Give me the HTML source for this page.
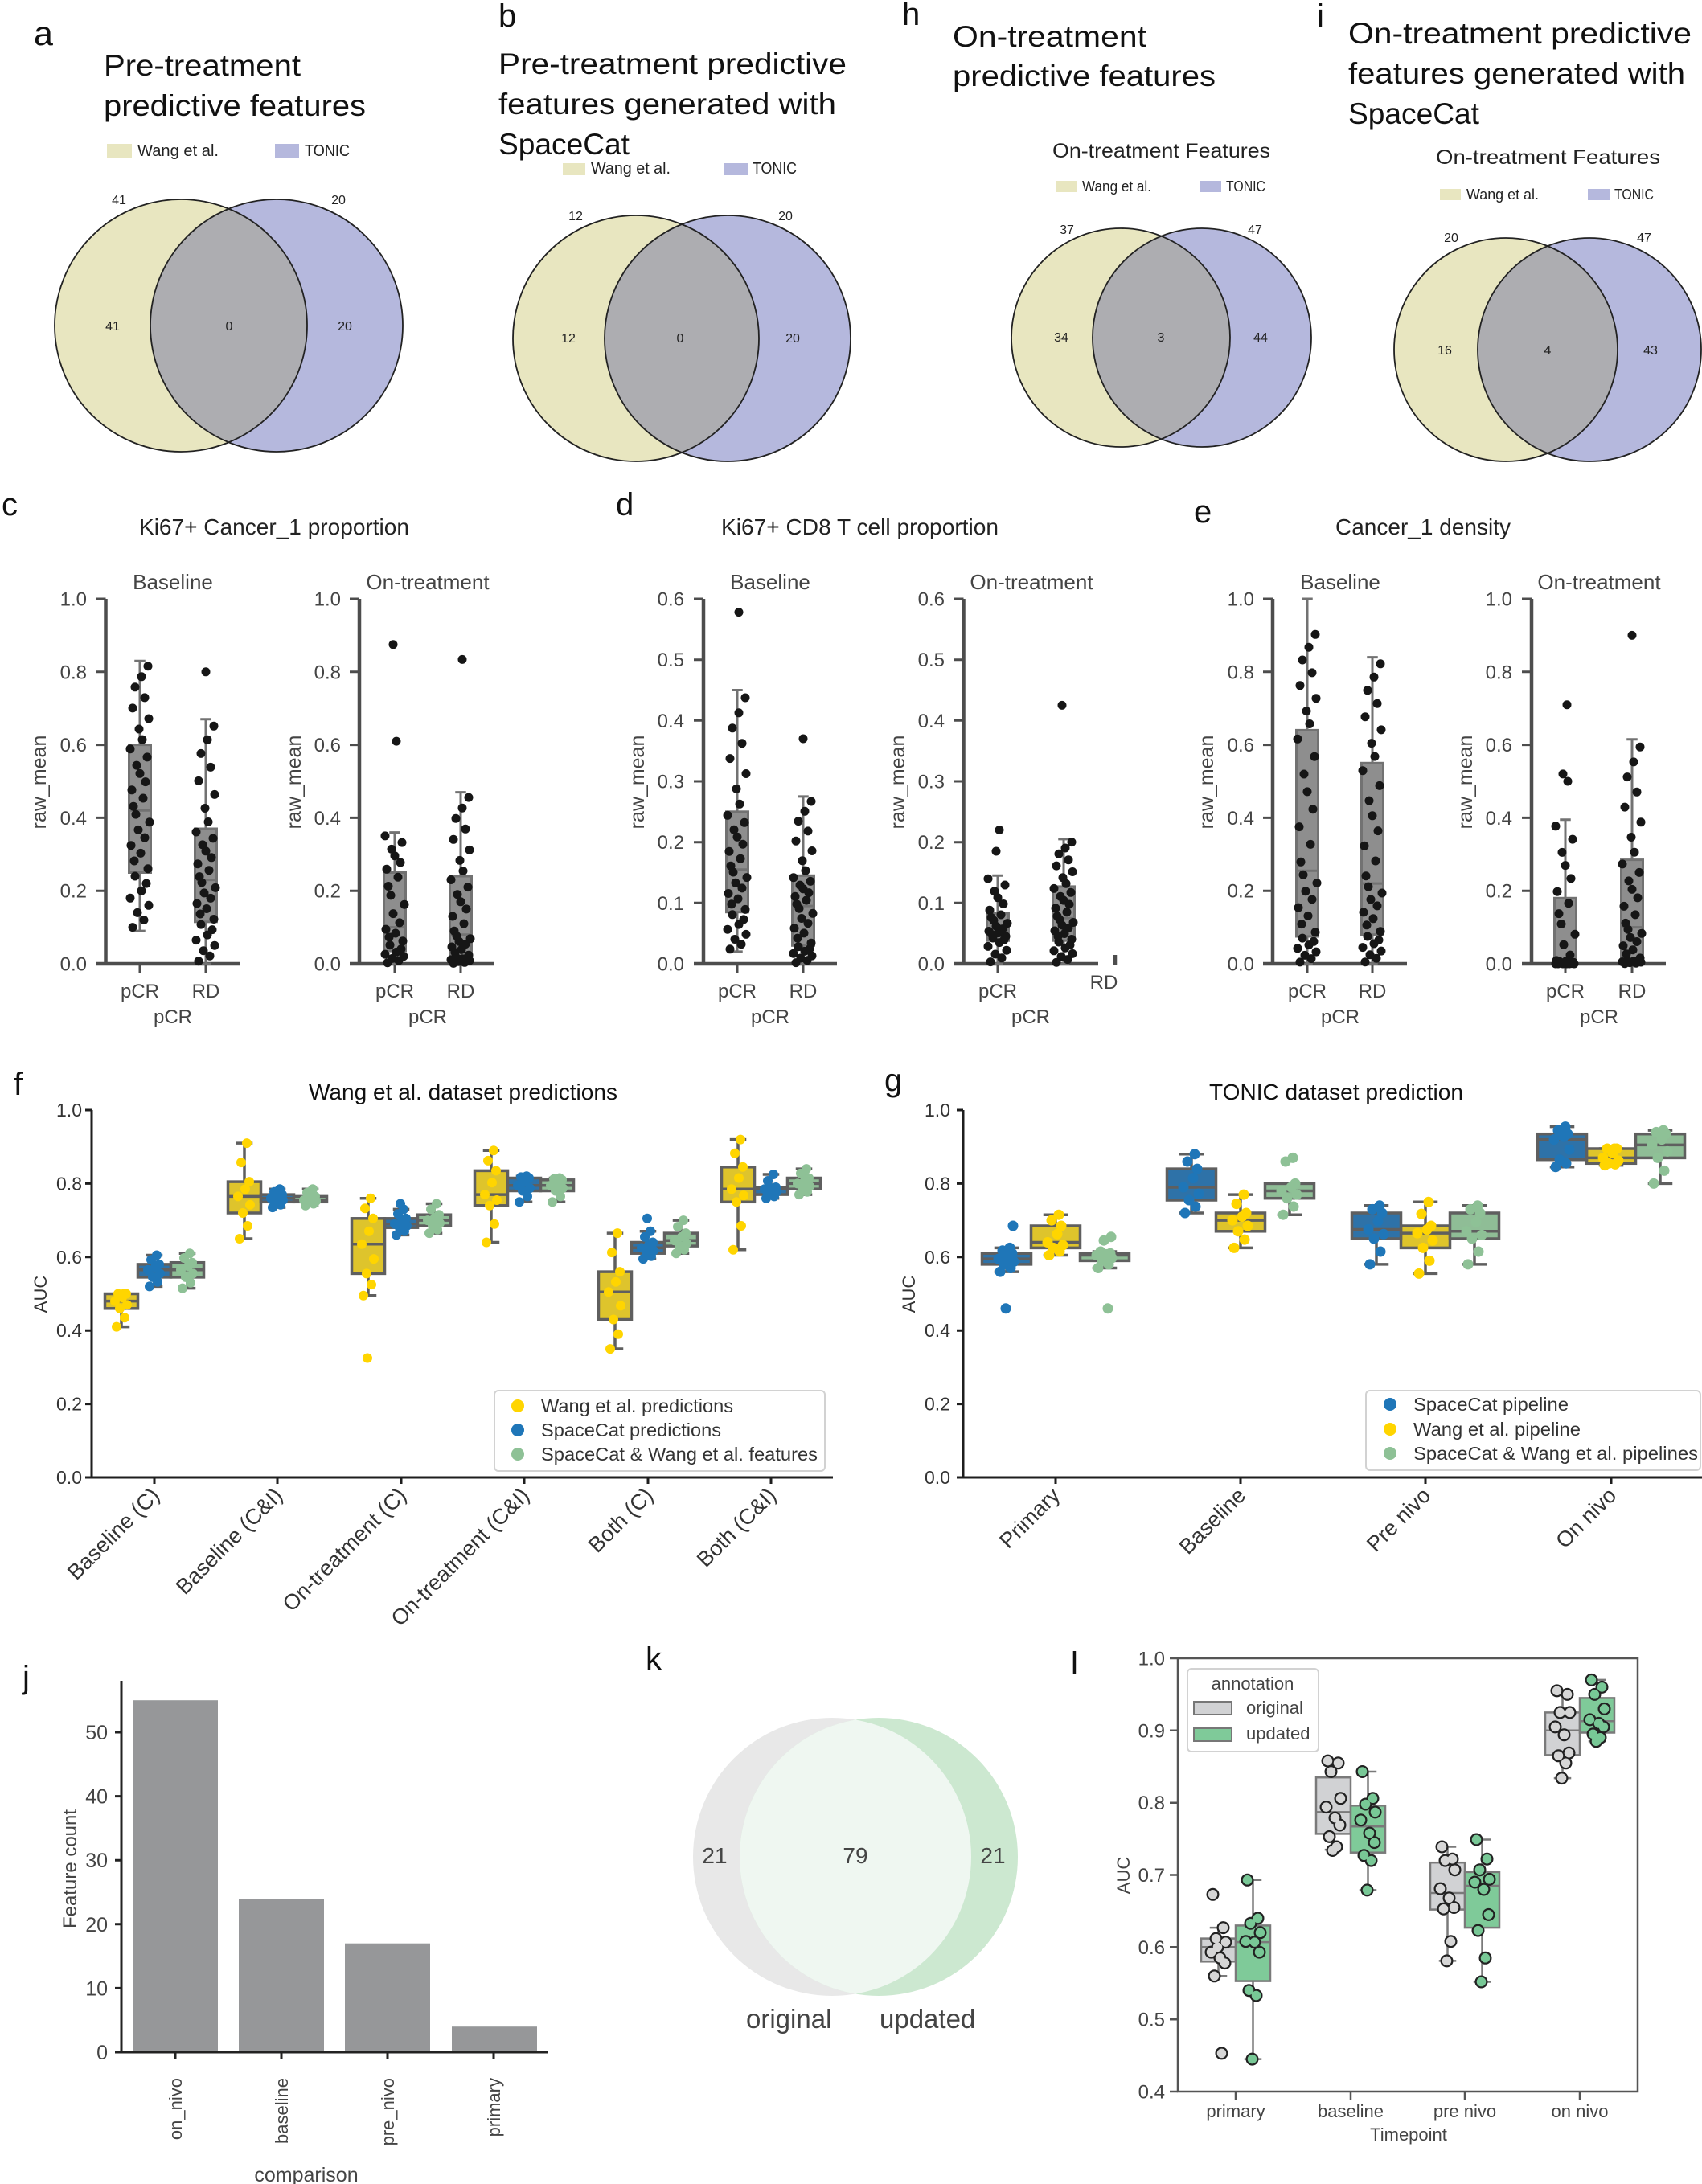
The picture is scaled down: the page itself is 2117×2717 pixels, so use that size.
<!DOCTYPE html>
<html><head><meta charset="utf-8">
<style>
html,body{margin:0;padding:0;background:#fff;}
svg{display:block;}
text{font-family:"Liberation Sans",Arial,sans-serif;}
.dv{font-family:"DejaVu Sans","Liberation Sans",sans-serif;}
</style></head>
<body>
<svg xmlns="http://www.w3.org/2000/svg" width="2117" height="2717" viewBox="0 0 2117 2717">
<rect width="2117" height="2717" fill="#fff"/>
<defs>
<clipPath id="ca"><circle cx="225" cy="405" r="157"/></clipPath>
<clipPath id="cb"><circle cx="791" cy="421" r="153"/></clipPath>
<clipPath id="ch"><circle cx="1394" cy="420" r="136"/></clipPath>
<clipPath id="ci"><circle cx="1873" cy="435" r="139"/></clipPath>
<clipPath id="ck"><circle cx="1035" cy="2310" r="173"/></clipPath>
</defs>

<!-- Venn a -->
<circle cx="225" cy="405" r="157" fill="#e8e6c0"/>
<circle cx="344" cy="405" r="157" fill="#b5b8dd"/>
<circle cx="344" cy="405" r="157" fill="#adadb1" clip-path="url(#ca)"/>
<circle cx="225" cy="405" r="157" fill="none" stroke="#222" stroke-width="1.8"/>
<circle cx="344" cy="405" r="157" fill="none" stroke="#222" stroke-width="1.8"/>
<!-- Venn b -->
<circle cx="791" cy="421" r="153" fill="#e8e6c0"/>
<circle cx="905" cy="421" r="153" fill="#b5b8dd"/>
<circle cx="905" cy="421" r="153" fill="#adadb1" clip-path="url(#cb)"/>
<circle cx="791" cy="421" r="153" fill="none" stroke="#222" stroke-width="1.8"/>
<circle cx="905" cy="421" r="153" fill="none" stroke="#222" stroke-width="1.8"/>
<!-- Venn h -->
<circle cx="1394" cy="420" r="136" fill="#e8e6c0"/>
<circle cx="1495" cy="420" r="136" fill="#b5b8dd"/>
<circle cx="1495" cy="420" r="136" fill="#adadb1" clip-path="url(#ch)"/>
<circle cx="1394" cy="420" r="136" fill="none" stroke="#222" stroke-width="1.8"/>
<circle cx="1495" cy="420" r="136" fill="none" stroke="#222" stroke-width="1.8"/>
<!-- Venn i -->
<circle cx="1873" cy="435" r="139" fill="#e8e6c0"/>
<circle cx="1977" cy="435" r="139" fill="#b5b8dd"/>
<circle cx="1977" cy="435" r="139" fill="#adadb1" clip-path="url(#ci)"/>
<circle cx="1873" cy="435" r="139" fill="none" stroke="#222" stroke-width="1.8"/>
<circle cx="1977" cy="435" r="139" fill="none" stroke="#222" stroke-width="1.8"/>
<!-- Venn k -->
<circle cx="1035" cy="2310" r="173" fill="#e8e8e8"/>
<circle cx="1093" cy="2310" r="173" fill="#cce8d0"/>
<circle cx="1093" cy="2310" r="173" fill="#eff7f1" clip-path="url(#ck)"/>

<!-- venn legends -->
<rect x="133" y="179" width="31" height="17" fill="#e8e6c0"/>
<rect x="342" y="179" width="30" height="17" fill="#b5b8dd"/>
<rect x="700" y="203" width="28" height="15" fill="#e8e6c0"/>
<rect x="901" y="203" width="30" height="15" fill="#b5b8dd"/>
<rect x="1314" y="225" width="26" height="14" fill="#e8e6c0"/>
<rect x="1493" y="225" width="26" height="14" fill="#b5b8dd"/>
<rect x="1791" y="235" width="26" height="14" fill="#e8e6c0"/>
<rect x="1975" y="235" width="27" height="14" fill="#b5b8dd"/>

<!-- ===== c d e axes ===== -->
<g fill="none" stroke="#4d4d4d">
<path stroke-width="4.5" d="M131.5 745V1201M119.5 1199H298M447 745V1201M435 1199H615M875 745V1201M863 1199H1041M1198.5 745V1201M1186.5 1199H1366M1583 745V1201M1571 1199H1750M1905 745V1201M1893 1199H2072M1387 1188v12"/>
<path stroke-width="3" d="M119.5 745h12M119.5 835.8h12M119.5 926.6h12M119.5 1017.4h12M119.5 1108.2h12M174 1199v12M256 1199v12
M435 745h12M435 835.8h12M435 926.6h12M435 1017.4h12M435 1108.2h12M491 1199v12M573 1199v12
M863 745h12M863 820.7h12M863 896.3h12M863 972h12M863 1047.7h12M863 1123.3h12M917 1199v12M999 1199v12
M1186.5 745h12M1186.5 820.7h12M1186.5 896.3h12M1186.5 972h12M1186.5 1047.7h12M1186.5 1123.3h12M1241 1199v12
M1571 745h12M1571 835.8h12M1571 926.6h12M1571 1017.4h12M1571 1108.2h12M1626 1199v12M1707 1199v12
M1893 745h12M1893 835.8h12M1893 926.6h12M1893 1017.4h12M1893 1108.2h12M1947 1199v12M2030 1199v12"/>
</g>
<!-- c d e boxes -->
<path fill="none" stroke="#727272" stroke-width="3" d="M174 1158.1V822.2M167.25 1158.1h13.5M167.25 822.2h13.5
M256 1199V894.8M249.25 1199h13.5M249.25 894.8h13.5
M491 1199V1035.6M484.25 1199h13.5M484.25 1035.6h13.5
M573 1199V985.6M566.25 1199h13.5M566.25 985.6h13.5
M917 1183.9V858.5M910.25 1183.9h13.5M910.25 858.5h13.5
M999 1199V990.9M992.25 1199h13.5M992.25 990.9h13.5
M1241 1199V1089.3M1234.25 1199h13.5M1234.25 1089.3h13.5
M1323 1199V1043.9M1316.25 1199h13.5M1316.25 1043.9h13.5
M1626 1199V745M1619.25 1199h13.5M1619.25 745h13.5
M1707 1199V817.6M1700.25 1199h13.5M1700.25 817.6h13.5
M1947 1199V1019.7M1940.25 1199h13.5M1940.25 1019.7h13.5
M2030 1199V919.8M2023.25 1199h13.5M2023.25 919.8h13.5"/>
<g fill="#8e8e8e" stroke="#727272" stroke-width="3">
<rect x="160.5" y="926.6" width="27" height="158.9"/>
<rect x="242.5" y="1031" width="27" height="115.8"/>
<rect x="477.5" y="1085.5" width="27" height="97.6"/>
<rect x="559.5" y="1090" width="27" height="99.9"/>
<rect x="903.5" y="1009.8" width="27" height="124.9"/>
<rect x="985.5" y="1089.3" width="27" height="87"/>
<rect x="1227.5" y="1136.2" width="27" height="34"/>
<rect x="1309.5" y="1102.9" width="27" height="67.3"/>
<rect x="1612.5" y="908.4" width="27" height="256.6"/>
<rect x="1693.5" y="949.3" width="27" height="213.4"/>
<rect x="1933.5" y="1117.3" width="27" height="81.7"/>
<rect x="2016.5" y="1069.6" width="27" height="124.9"/>
</g>
<path fill="none" stroke="#727272" stroke-width="3" d="M160.5 1008.3h27M242.5 1094.6h27M477.5 1153.6h27M559.5 1162.7h27M903.5 1081.7h27M985.5 1127.1h27M1227.5 1157.4h27M1309.5 1142.2h27M1612.5 1083.2h27M1693.5 1099.1h27M1933.5 1194.5h27M2016.5 1153.6h27"/>
<!-- c d e points -->
<path fill="none" stroke="#161616" stroke-width="11" stroke-linecap="round" d="
M165 1153.6h0M179 1144.5h0M171 1135.4h0M185 1126.3h0M162 1117.3h0M176 1108.2h0M182 1099.1h0M168 1090h0M184 1080.7h0M167 1071h0M175 1061.4h0M163 1051.7h0M180 1042.1h0M172 1032.4h0M186 1022.8h0M169 1013.1h0M166 1003.2h0M178 993h0M164 982.8h0M181 972.6h0M174 962.3h0M170 952.1h0M183 941.9h0M162 931.7h0M177 920.1h0M173 907h0M185 894h0M165 880.9h0M180 867.9h0M168 854.8h0M176 841.8h0M184 828.7h0
M247 1195.7h0M261 1189.2h0M253 1182.7h0M267 1176.2h0M244 1169.6h0M258 1163.1h0M264 1156.6h0M250 1150.1h0M266 1143.5h0M249 1137h0M257 1130.5h0M245 1124h0M262 1117.4h0M254 1110.9h0M268 1104.4h0M251 1097.9h0M248 1090.6h0M260 1082.7h0M246 1074.7h0M263 1066.8h0M256 1058.8h0M252 1050.9h0M265 1042.9h0M244 1035h0M259 1022.5h0M255 1005.5h0M267 988.4h0M247 971.4h0M262 954.4h0M250 937.4h0M258 920.3h0M266 903.3h0M256 835.8h0
M482 1197.7h0M496 1195h0M488 1192.4h0M502 1189.7h0M479 1187.1h0M493 1184.4h0M499 1180.6h0M485 1175.7h0M501 1170.8h0M484 1165.9h0M492 1161h0M480 1156.1h0M497 1147.9h0M489 1136.6h0M503 1125.2h0M486 1113.9h0M483 1102.5h0M495 1091.2h0M481 1081.3h0M498 1073h0M491 1064.7h0M487 1056.4h0M500 1048.1h0M479 1039.9h0M493 922.1h0M489 801.8h0
M564 1198.4h0M578 1197.3h0M570 1196.2h0M584 1195h0M561 1193.9h0M575 1192.7h0M581 1191.6h0M567 1190.5h0M583 1188.2h0M566 1184.8h0M574 1181.4h0M562 1178h0M579 1174.6h0M571 1171.2h0M585 1167.8h0M568 1164.4h0M565 1158.2h0M577 1149.1h0M563 1140h0M580 1130.9h0M573 1121.8h0M569 1112.7h0M582 1103.6h0M561 1094.5h0M576 1083.5h0M572 1070.4h0M584 1057.4h0M564 1044.3h0M579 1031.3h0M567 1018.2h0M575 1005.2h0M583 992.1h0M575 820.4h0
M908 1180.8h0M922 1174.7h0M914 1168.5h0M928 1162.4h0M905 1156.2h0M919 1150.1h0M925 1143.9h0M911 1137.8h0M927 1131.4h0M910 1124.8h0M918 1118.1h0M906 1111.5h0M923 1104.9h0M915 1098.3h0M929 1091.6h0M912 1085h0M909 1077.2h0M921 1068.2h0M907 1059.2h0M924 1050.2h0M917 1041.3h0M913 1032.3h0M926 1023.3h0M905 1014.3h0M920 1000.3h0M916 981.4h0M928 962.5h0M908 943.6h0M923 924.7h0M911 905.8h0M919 886.8h0M927 868h0M919 761.6h0
M990 1197.6h0M1004 1194.7h0M996 1191.9h0M1010 1189.1h0M987 1186.2h0M1001 1183.4h0M1007 1180.6h0M993 1177.7h0M1009 1173.2h0M992 1167.1h0M1000 1160.9h0M988 1154.8h0M1005 1148.6h0M997 1142.5h0M1011 1136.3h0M994 1130.2h0M991 1124.7h0M1003 1120h0M989 1115.3h0M1006 1110.6h0M999 1105.8h0M995 1101.1h0M1008 1096.4h0M987 1091.7h0M1002 1083.1h0M998 1070.8h0M1010 1058.5h0M990 1046.2h0M1005 1033.9h0M993 1021.6h0M1001 1009.3h0M1009 997h0M999 919h0
M1232 1196.6h0M1246 1191.8h0M1238 1187h0M1252 1182.2h0M1229 1177.4h0M1243 1172.6h0M1249 1169.1h0M1235 1167h0M1251 1164.9h0M1234 1162.7h0M1242 1160.6h0M1230 1158.5h0M1247 1155.6h0M1239 1152.1h0M1253 1148.6h0M1236 1145h0M1233 1141.5h0M1245 1138h0M1231 1132.3h0M1248 1124.5h0M1241 1116.7h0M1237 1108.8h0M1250 1101h0M1229 1093.2h0M1239 1059h0M1243 1032.5h0
M1314 1197.2h0M1328 1193.6h0M1320 1190h0M1334 1186.4h0M1311 1182.8h0M1325 1179.2h0M1331 1175.6h0M1317 1172h0M1333 1168.5h0M1316 1165h0M1324 1161.5h0M1312 1158h0M1329 1154.5h0M1321 1151h0M1335 1147.5h0M1318 1144h0M1315 1139.7h0M1327 1134.8h0M1313 1129.9h0M1330 1125h0M1323 1120.1h0M1319 1115.2h0M1332 1110.3h0M1311 1105.4h0M1326 1099.2h0M1322 1091.8h0M1334 1084.5h0M1314 1077.1h0M1329 1069.7h0M1317 1062.3h0M1325 1055h0M1333 1047.6h0M1321 877.4h0
M1617 1196.9h0M1631 1192.6h0M1623 1188.4h0M1637 1184.1h0M1614 1179.8h0M1628 1175.6h0M1634 1171.3h0M1620 1167.1h0M1636 1159.8h0M1619 1149.6h0M1627 1139.4h0M1615 1129.1h0M1632 1118.9h0M1624 1108.7h0M1638 1098.5h0M1621 1088.3h0M1618 1072.3h0M1630 1050.4h0M1616 1028.6h0M1633 1006.7h0M1626 984.9h0M1622 963h0M1635 941.2h0M1614 919.3h0M1629 900.5h0M1625 884.6h0M1637 868.7h0M1617 852.8h0M1632 836.9h0M1620 821h0M1628 805.2h0M1636 789.3h0
M1698 1196.7h0M1712 1192.2h0M1704 1187.7h0M1718 1183.1h0M1695 1178.6h0M1709 1174h0M1715 1169.5h0M1701 1165h0M1717 1158.7h0M1700 1150.8h0M1708 1142.8h0M1696 1134.9h0M1713 1126.9h0M1705 1119h0M1719 1111h0M1702 1103.1h0M1699 1089.7h0M1711 1071h0M1697 1052.3h0M1714 1033.6h0M1707 1014.8h0M1703 996.1h0M1716 977.4h0M1695 958.7h0M1710 941.1h0M1706 924.6h0M1718 907.9h0M1698 891.7h0M1713 875.2h0M1701 858.8h0M1709 842.3h0M1717 825.8h0
M1938 1199h0M1952 1199h0M1944 1199h0M1958 1199h0M1935 1199h0M1949 1199h0M1955 1198.6h0M1941 1197.9h0M1957 1197.1h0M1940 1196.4h0M1948 1195.6h0M1936 1194.9h0M1953 1188.1h0M1945 1175.2h0M1959 1162.3h0M1942 1149.5h0M1939 1136.6h0M1951 1123.7h0M1937 1109.2h0M1954 1092.9h0M1947 1076.6h0M1943 1060.4h0M1956 1044.1h0M1935 1027.8h0M1950 972h0M1944 962.9h0M1949 876.7h0
M2021 1198.7h0M2035 1198.2h0M2027 1197.6h0M2041 1197h0M2018 1196.5h0M2032 1195.9h0M2038 1195.3h0M2024 1194.8h0M2040 1191.9h0M2023 1186.8h0M2031 1181.7h0M2019 1176.6h0M2036 1171.5h0M2028 1166.4h0M2042 1161.3h0M2025 1156.2h0M2022 1148.4h0M2034 1137.9h0M2020 1127.4h0M2037 1116.9h0M2030 1106.4h0M2026 1095.9h0M2039 1085.4h0M2018 1074.9h0M2033 1060.2h0M2029 1041.5h0M2041 1022.8h0M2021 1004.1h0M2036 985.3h0M2024 966.6h0M2032 947.9h0M2040 929.2h0M2030 790.4h0"/>

<!-- ===== f g axes ===== -->
<g fill="none" stroke="#1e1e1e" stroke-width="3">
<path d="M114 1381V1839.5M114 1838H1036M106 1381h8M106 1472.4h8M106 1563.8h8M106 1655.2h8M106 1746.6h8M106 1838h8M192 1838v8M345 1838v8M499 1838v8M652 1838v8M806 1838v8M959 1838v8"/>
<path d="M1198 1381V1839.5M1198 1838H2117M1190 1381h8M1190 1472.4h8M1190 1563.8h8M1190 1655.2h8M1190 1746.6h8M1190 1838h8M1313 1838v8M1543 1838v8M1773 1838v8M2004 1838v8"/>
</g>
<!-- f/g whiskers -->
<path fill="none" stroke="#5f5f5f" stroke-width="3.5" d="M151 1650.6V1609.5M140.75 1650.6h20.5M140.75 1609.5h20.5
M304 1540.95V1422.1M293.75 1540.95h20.5M293.75 1422.1h20.5
M458 1611.8V1490.7M447.75 1611.8h20.5M447.75 1490.7h20.5
M611 1545.5V1431.3M600.75 1545.5h20.5M600.75 1431.3h20.5
M765 1678.05V1534.1M754.75 1678.05h20.5M754.75 1534.1h20.5
M918 1554.7V1417.6M907.75 1554.7h20.5M907.75 1417.6h20.5
M192 1600.4V1561.5M181.75 1600.4h20.5M181.75 1561.5h20.5
M345 1502.1V1479.2M334.75 1502.1h20.5M334.75 1479.2h20.5
M499 1536.4V1504.4M488.75 1536.4h20.5M488.75 1504.4h20.5
M652 1495.25V1463.3M641.75 1495.25h20.5M641.75 1463.3h20.5
M806 1566.1V1531.8M795.75 1566.1h20.5M795.75 1531.8h20.5
M959 1490.7V1461M948.75 1490.7h20.5M948.75 1461h20.5
M233 1602.6V1559.2M222.75 1602.6h20.5M222.75 1559.2h20.5
M386 1499.8V1479.2M375.75 1499.8h20.5M375.75 1479.2h20.5
M540 1534.1V1497.5M529.75 1534.1h20.5M529.75 1497.5h20.5
M693 1495.25V1465.5M682.75 1495.25h20.5M682.75 1465.5h20.5
M847 1559.2V1518.1M836.75 1559.2h20.5M836.75 1518.1h20.5
M1000 1486.1V1454.1M989.75 1486.1h20.5M989.75 1454.1h20.5
M1252 1582.1V1552.4M1236.75 1582.1h30.5M1236.75 1552.4h30.5
M1482 1509V1435.8M1466.75 1509h30.5M1466.75 1435.8h30.5
M1712 1572.9V1499.8M1696.75 1572.9h30.5M1696.75 1499.8h30.5
M1943 1451.8V1401.6M1927.75 1451.8h30.5M1927.75 1401.6h30.5
M1313 1561.5V1511.2M1297.75 1561.5h30.5M1297.75 1511.2h30.5
M1543 1552.4V1486.1M1527.75 1552.4h30.5M1527.75 1486.1h30.5
M1773 1584.4V1495.25M1757.75 1584.4h30.5M1757.75 1495.25h30.5
M2004 1449.6V1429M1988.75 1449.6h30.5M1988.75 1429h30.5
M1374 1577.5V1557M1358.75 1577.5h30.5M1358.75 1557h30.5
M1604 1511.2V1472.4M1588.75 1511.2h30.5M1588.75 1472.4h30.5
M1834 1572.9V1499.8M1818.75 1572.9h30.5M1818.75 1499.8h30.5
M2065 1472.4V1406.1M2049.75 1472.4h30.5M2049.75 1406.1h30.5"/>
<g stroke="#5f5f5f" stroke-width="3.5">
<g fill="#dec42c">
<rect x="130.5" y="1609.5" width="41" height="18.3"/>
<rect x="283.5" y="1470.1" width="41" height="38.9"/>
<rect x="437.5" y="1515.8" width="41" height="68.6"/>
<rect x="590.5" y="1456.4" width="41" height="43.4"/>
<rect x="744.5" y="1582.1" width="41" height="59.4"/>
<rect x="897.5" y="1451.8" width="41" height="43.5"/>
<rect x="1282.5" y="1525" width="61" height="27.4"/>
<rect x="1512.5" y="1509" width="61" height="22.8"/>
<rect x="1742.5" y="1525" width="61" height="27.4"/>
<rect x="1973.5" y="1429" width="61" height="18.3"/>
</g>
<g fill="#2e72a8">
<rect x="171.5" y="1572.9" width="41" height="16"/>
<rect x="324.5" y="1486.1" width="41" height="9.2"/>
<rect x="478.5" y="1515.8" width="41" height="11.4"/>
<rect x="631.5" y="1465.5" width="41" height="16"/>
<rect x="785.5" y="1545.5" width="41" height="13.7"/>
<rect x="938.5" y="1477" width="41" height="9.1"/>
<rect x="1221.5" y="1559.2" width="61" height="13.7"/>
<rect x="1451.5" y="1454.1" width="61" height="38.9"/>
<rect x="1681.5" y="1509" width="61" height="32"/>
<rect x="1912.5" y="1410.7" width="61" height="32"/>
</g>
<g fill="#8fbd96">
<rect x="212.5" y="1570.7" width="41" height="18.2"/>
<rect x="365.5" y="1488.4" width="41" height="6.9"/>
<rect x="519.5" y="1511.2" width="41" height="13.8"/>
<rect x="672.5" y="1467.8" width="41" height="13.7"/>
<rect x="826.5" y="1534.1" width="41" height="16"/>
<rect x="979.5" y="1465.5" width="41" height="13.7"/>
<rect x="1343.5" y="1559.2" width="61" height="9.2"/>
<rect x="1573.5" y="1472.4" width="61" height="18.3"/>
<rect x="1803.5" y="1509" width="61" height="32"/>
<rect x="2034.5" y="1410.7" width="61" height="29.7"/>
</g>
</g>
<path fill="none" stroke="#5f5f5f" stroke-width="3.5" d="M130.5 1618.6h41M283.5 1488.4h41M437.5 1547.8h41M590.5 1486.1h41M744.5 1607.2h41M897.5 1479.2h41M171.5 1579.8h41M324.5 1490.7h41M478.5 1522.7h41M631.5 1474.7h41M785.5 1552.4h41M938.5 1479.2h41M212.5 1579.8h41M365.5 1493h41M519.5 1518.1h41M672.5 1474.7h41M826.5 1543.2h41M979.5 1472.4h41
M1221.5 1566.1h61M1451.5 1477h61M1681.5 1529.5h61M1912.5 1417.6h61M1282.5 1545.5h61M1512.5 1518.1h61M1742.5 1534.1h61M1973.5 1440.4h61M1343.5 1561.5h61M1573.5 1481.5h61M1803.5 1531.8h61M2034.5 1424.4h61"/>
<!-- f points -->
<path fill="none" stroke="#ffd500" stroke-width="12" stroke-linecap="round" d="M145 1650.6h0M155 1639.2h0M149 1627.8h0M158 1623.2h0M143 1618.6h0M152 1614.1h0M157 1609.5h0M147 1609.5h0M154 1609.5h0
M298 1541h0M308 1525h0M302 1509h0M311 1498.7h0M296 1488.4h0M305 1479.3h0M310 1470.1h0M300 1446.1h0M307 1422.1h0
M452 1611.8h0M462 1598.1h0M456 1584.4h0M465 1566.1h0M450 1547.8h0M459 1531.8h0M464 1515.8h0M454 1503.3h0M461 1490.7h0M457 1689.5h0
M605 1545.5h0M615 1522.7h0M609 1499.8h0M618 1493h0M603 1486.1h0M612 1471.3h0M617 1456.4h0M607 1443.9h0M614 1431.3h0
M759 1678.1h0M769 1659.8h0M763 1641.5h0M772 1624.4h0M757 1607.2h0M766 1594.7h0M771 1582.1h0M761 1558.1h0M768 1534.1h0
M912 1554.7h0M922 1525h0M916 1495.3h0M925 1487.2h0M910 1479.2h0M919 1465.5h0M924 1451.8h0M914 1434.7h0M921 1417.6h0"/>
<path fill="none" stroke="#1f76b8" stroke-width="12" stroke-linecap="round" d="M186 1600.4h0M196 1594.7h0M190 1588.9h0M199 1584.4h0M184 1579.8h0M193 1576.4h0M198 1572.9h0M188 1567.2h0M195 1561.5h0
M339 1502.1h0M349 1498.7h0M343 1495.3h0M352 1493h0M337 1490.7h0M346 1488.4h0M351 1486.1h0M341 1482.7h0M348 1479.2h0
M493 1536.4h0M503 1531.8h0M497 1527.2h0M506 1525h0M491 1522.7h0M500 1519.3h0M505 1515.8h0M495 1510.1h0M502 1504.4h0M498 1497.5h0
M646 1495.3h0M656 1488.4h0M650 1481.5h0M659 1478.1h0M644 1474.7h0M653 1470.1h0M658 1465.5h0M648 1464.4h0M655 1463.3h0
M800 1566.1h0M810 1562.7h0M804 1559.2h0M813 1555.8h0M798 1552.4h0M807 1549h0M812 1545.5h0M802 1538.7h0M809 1531.8h0M805 1515.8h0
M953 1490.7h0M963 1488.4h0M957 1486.1h0M966 1482.7h0M951 1479.2h0M960 1478.1h0M965 1477h0M955 1469h0M962 1461h0"/>
<path fill="none" stroke="#8ec196" stroke-width="12" stroke-linecap="round" d="M227 1602.6h0M237 1595.8h0M231 1588.9h0M240 1584.4h0M225 1579.8h0M234 1575.3h0M239 1570.7h0M229 1565h0M236 1559.2h0
M380 1499.8h0M390 1497.5h0M384 1495.3h0M393 1494.1h0M378 1493h0M387 1490.7h0M392 1488.4h0M382 1483.8h0M389 1479.2h0
M534 1534.1h0M544 1529.6h0M538 1525h0M547 1521.6h0M532 1518.1h0M541 1514.7h0M546 1511.2h0M536 1504.4h0M543 1497.5h0
M687 1495.3h0M697 1488.4h0M691 1481.5h0M700 1478.1h0M685 1474.7h0M694 1471.3h0M699 1467.8h0M689 1466.7h0M696 1465.5h0
M841 1559.2h0M851 1554.7h0M845 1550.1h0M854 1546.7h0M839 1543.2h0M848 1538.7h0M853 1534.1h0M843 1526.1h0M850 1518.1h0
M994 1486.1h0M1004 1482.7h0M998 1479.2h0M1007 1475.8h0M992 1472.4h0M1001 1469h0M1006 1465.5h0M996 1459.8h0M1003 1454.1h0"/>
<!-- g points -->
<path fill="none" stroke="#1f76b8" stroke-width="13" stroke-linecap="round" d="M1244 1582.1h0M1257 1577.5h0M1249 1572.9h0M1261 1569.5h0M1242 1566.1h0M1254 1562.7h0M1259 1559.2h0M1247 1555.8h0M1256 1552.4h0M1251 1627.8h0M1260 1525h0
M1474 1509h0M1487 1501h0M1479 1493h0M1491 1485h0M1472 1477h0M1484 1465.6h0M1489 1454.1h0M1477 1445h0M1486 1435.8h0
M1704 1572.9h0M1717 1557h0M1709 1541h0M1721 1535.3h0M1702 1529.5h0M1714 1519.3h0M1719 1509h0M1707 1504.4h0M1716 1499.8h0
M1935 1451.8h0M1948 1447.3h0M1940 1442.7h0M1952 1430.2h0M1933 1417.6h0M1945 1414.2h0M1950 1410.7h0M1938 1406.2h0M1947 1401.6h0"/>
<path fill="none" stroke="#ffd500" stroke-width="13" stroke-linecap="round" d="M1305 1561.5h0M1318 1557h0M1310 1552.4h0M1322 1549h0M1303 1545.5h0M1315 1535.3h0M1320 1525h0M1308 1518.1h0M1317 1511.2h0
M1535 1552.4h0M1548 1542.1h0M1540 1531.8h0M1552 1525h0M1533 1518.1h0M1545 1513.6h0M1550 1509h0M1538 1497.6h0M1547 1486.1h0
M1765 1584.4h0M1778 1568.4h0M1770 1552.4h0M1782 1543.3h0M1763 1534.1h0M1775 1529.6h0M1780 1525h0M1768 1510.1h0M1777 1495.3h0
M1996 1449.6h0M2009 1448.4h0M2001 1447.3h0M2013 1443.9h0M1994 1440.4h0M2006 1434.7h0M2011 1429h0M1999 1429h0M2008 1429h0"/>
<path fill="none" stroke="#8ec196" stroke-width="13" stroke-linecap="round" d="M1366 1577.5h0M1379 1573h0M1371 1568.4h0M1383 1565h0M1364 1561.5h0M1376 1560.4h0M1381 1559.2h0M1369 1557h0M1378 1627.8h0M1373 1543.2h0M1382 1538.7h0
M1596 1511.2h0M1609 1501h0M1601 1490.7h0M1613 1486.1h0M1594 1481.5h0M1606 1477h0M1611 1472.4h0M1599 1445h0M1608 1440.4h0
M1826 1572.9h0M1839 1557h0M1831 1541h0M1843 1536.4h0M1824 1531.8h0M1836 1520.4h0M1841 1509h0M1829 1504.4h0M1838 1499.8h0
M2057 1472.4h0M2070 1456.4h0M2062 1440.4h0M2074 1432.4h0M2055 1424.4h0M2067 1417.6h0M2072 1410.7h0M2060 1408.4h0M2069 1406.1h0"/>

<!-- ===== j ===== -->
<g fill="#969799">
<rect x="165" y="2115.2" width="106" height="436.3"/>
<rect x="297" y="2362" width="106" height="189.5"/>
<rect x="429" y="2417.7" width="106" height="133.8"/>
<rect x="562" y="2521.2" width="106" height="30.3"/>
</g>
<path fill="none" stroke="#222" stroke-width="3" d="M151 2091V2554.5M143 2553H682M143 2473.4h8M143 2393.8h8M143 2314.2h8M143 2234.6h8M143 2155h8M218 2553v8M350 2553v8M482 2553v8M614 2553v8"/>

<!-- ===== l ===== -->
<rect x="1465" y="2063" width="572" height="539" fill="none" stroke="#555" stroke-width="2.5"/>
<path fill="none" stroke="#555" stroke-width="2.5" d="M1455 2602h10M1455 2512.2h10M1455 2422.3h10M1455 2332.5h10M1455 2242.7h10M1455 2152.8h10M1455 2063h10M1537 2602v10M1680 2602v10M1822 2602v10M1965 2602v10"/>
<path fill="none" stroke="#7a7a7a" stroke-width="2.5" d="M1515.5 2458.3V2398.1M1504.75 2458.3h21.5M1504.75 2398.1h21.5
M1558.5 2561.6V2338.8M1547.75 2561.6h21.5M1547.75 2338.8h21.5
M1658.5 2301.1V2190.6M1647.75 2301.1h21.5M1647.75 2190.6h21.5
M1701.5 2351.4V2204M1690.75 2351.4h21.5M1690.75 2204h21.5
M1800.5 2439.4V2297.5M1789.75 2439.4h21.5M1789.75 2297.5h21.5
M1843.5 2465.5V2288.5M1832.75 2465.5h21.5M1832.75 2288.5h21.5
M1943.5 2212.1V2103.4M1932.75 2212.1h21.5M1932.75 2103.4h21.5
M1986.5 2166.3V2089.9M1975.75 2166.3h21.5M1975.75 2089.9h21.5"/>
<g stroke="#7a7a7a" stroke-width="2.5">
<g fill="#d1d2d4">
<rect x="1494" y="2411.6" width="43" height="28.7"/>
<rect x="1637" y="2211.2" width="43" height="70.2"/>
<rect x="1779" y="2317.2" width="43" height="58.4"/>
<rect x="1922" y="2130.4" width="43" height="53"/>
</g>
<g fill="#7fca99">
<rect x="1537" y="2395.4" width="43" height="69.2"/>
<rect x="1680" y="2246.3" width="43" height="58.4"/>
<rect x="1822" y="2328.9" width="43" height="69.2"/>
<rect x="1965" y="2112.4" width="43" height="43.1"/>
</g>
</g>
<path fill="none" stroke="#7a7a7a" stroke-width="2.5" d="M1494 2422.3h43M1637 2254.4h43M1779 2355h43M1922 2152.8h43M1537 2416.1h43M1680 2272.3h43M1822 2346h43M1965 2141.2h43"/>
<!-- l points -->
<path fill="none" stroke="#222" stroke-width="16" stroke-linecap="round" d="M1508.5 2356.8h0M1521.5 2398.1h0M1512.5 2411.6h0M1524.5 2416.1h0M1506.5 2428.6h0M1517.5 2435.8h0M1523.5 2442.1h0M1510.5 2458.3h0M1519.5 2554.4h0M1514.5 2422.3h0
M1651.5 2190.6h0M1664.5 2193.3h0M1655.5 2204h0M1667.5 2237.3h0M1649.5 2248.1h0M1660.5 2261.6h0M1666.5 2270.5h0M1653.5 2284.9h0M1662.5 2297.5h0M1657.5 2302h0
M1793.5 2297.5h0M1806.5 2312.7h0M1797.5 2314.6h0M1809.5 2326.2h0M1791.5 2349.6h0M1802.5 2361.3h0M1808.5 2373h0M1795.5 2374.7h0M1804.5 2415.2h0M1799.5 2439.4h0
M1936.5 2103.4h0M1949.5 2107.9h0M1940.5 2130.4h0M1952.5 2130.4h0M1934.5 2148.4h0M1945.5 2158.2h0M1951.5 2180.7h0M1938.5 2184.3h0M1947.5 2193.3h0M1942.5 2212.1h0
M1551.5 2338.8h0M1564.5 2386.4h0M1555.5 2392.7h0M1567.5 2404.3h0M1549.5 2415.2h0M1560.5 2416.1h0M1566.5 2428.6h0M1553.5 2476.2h0M1562.5 2482.5h0M1557.5 2561.6h0
M1694.5 2204h0M1707.5 2237.3h0M1698.5 2244.5h0M1710.5 2254.4h0M1692.5 2264.3h0M1703.5 2280.5h0M1709.5 2292.1h0M1696.5 2308.3h0M1705.5 2314.6h0M1700.5 2351.4h0
M1836.5 2288.5h0M1849.5 2312.7h0M1840.5 2326.2h0M1852.5 2337.9h0M1834.5 2341.5h0M1845.5 2350.5h0M1851.5 2381.9h0M1838.5 2401.6h0M1847.5 2435.8h0M1842.5 2465.5h0
M1979.5 2089.9h0M1992.5 2098.9h0M1983.5 2107.9h0M1995.5 2125.9h0M1977.5 2139.4h0M1988.5 2143.9h0M1994.5 2148.4h0M1981.5 2157.3h0M1990.5 2161.8h0M1985.5 2166.3h0"/>
<path fill="none" stroke="#d6d6d6" stroke-width="11.5" stroke-linecap="round" d="M1508.5 2356.8h0M1521.5 2398.1h0M1512.5 2411.6h0M1524.5 2416.1h0M1506.5 2428.6h0M1517.5 2435.8h0M1523.5 2442.1h0M1510.5 2458.3h0M1519.5 2554.4h0M1514.5 2422.3h0
M1651.5 2190.6h0M1664.5 2193.3h0M1655.5 2204h0M1667.5 2237.3h0M1649.5 2248.1h0M1660.5 2261.6h0M1666.5 2270.5h0M1653.5 2284.9h0M1662.5 2297.5h0M1657.5 2302h0
M1793.5 2297.5h0M1806.5 2312.7h0M1797.5 2314.6h0M1809.5 2326.2h0M1791.5 2349.6h0M1802.5 2361.3h0M1808.5 2373h0M1795.5 2374.7h0M1804.5 2415.2h0M1799.5 2439.4h0
M1936.5 2103.4h0M1949.5 2107.9h0M1940.5 2130.4h0M1952.5 2130.4h0M1934.5 2148.4h0M1945.5 2158.2h0M1951.5 2180.7h0M1938.5 2184.3h0M1947.5 2193.3h0M1942.5 2212.1h0"/>
<path fill="none" stroke="#78c896" stroke-width="11.5" stroke-linecap="round" d="M1551.5 2338.8h0M1564.5 2386.4h0M1555.5 2392.7h0M1567.5 2404.3h0M1549.5 2415.2h0M1560.5 2416.1h0M1566.5 2428.6h0M1553.5 2476.2h0M1562.5 2482.5h0M1557.5 2561.6h0
M1694.5 2204h0M1707.5 2237.3h0M1698.5 2244.5h0M1710.5 2254.4h0M1692.5 2264.3h0M1703.5 2280.5h0M1709.5 2292.1h0M1696.5 2308.3h0M1705.5 2314.6h0M1700.5 2351.4h0
M1836.5 2288.5h0M1849.5 2312.7h0M1840.5 2326.2h0M1852.5 2337.9h0M1834.5 2341.5h0M1845.5 2350.5h0M1851.5 2381.9h0M1838.5 2401.6h0M1847.5 2435.8h0M1842.5 2465.5h0
M1979.5 2089.9h0M1992.5 2098.9h0M1983.5 2107.9h0M1995.5 2125.9h0M1977.5 2139.4h0M1988.5 2143.9h0M1994.5 2148.4h0M1981.5 2157.3h0M1990.5 2161.8h0M1985.5 2166.3h0"/>

<!-- panel letters -->
<g font-size="40" fill="#111">
<text x="42" y="56" font-size="43">a</text>
<text x="620" y="33">b</text>
<text x="1122" y="31">h</text>
<text x="1638" y="33">i</text>
<text x="2" y="641">c</text>
<text x="766" y="641">d</text>
<text x="1485" y="650">e</text>
<text x="17" y="1362">f</text>
<text x="1100" y="1357">g</text>
<text x="28" y="2100">j</text>
<text x="803" y="2077">k</text>
<text x="1332" y="2083">l</text>
</g>

<!-- venn titles -->
<g font-size="37" fill="#111">
<text x="129" y="94" textLength="245" lengthAdjust="spacingAndGlyphs">Pre-treatment</text>
<text x="129" y="144" textLength="326" lengthAdjust="spacingAndGlyphs">predictive features</text>
<text x="620" y="92" textLength="433" lengthAdjust="spacingAndGlyphs">Pre-treatment predictive</text>
<text x="620" y="142" textLength="420" lengthAdjust="spacingAndGlyphs">features generated with</text>
<text x="620" y="192" textLength="163" lengthAdjust="spacingAndGlyphs">SpaceCat</text>
<text x="1185" y="58" textLength="241" lengthAdjust="spacingAndGlyphs">On-treatment</text>
<text x="1185" y="107" textLength="327" lengthAdjust="spacingAndGlyphs">predictive features</text>
<text x="1677" y="54" textLength="427" lengthAdjust="spacingAndGlyphs">On-treatment predictive</text>
<text x="1677" y="104" textLength="419" lengthAdjust="spacingAndGlyphs">features generated with</text>
<text x="1677" y="154" textLength="163" lengthAdjust="spacingAndGlyphs">SpaceCat</text>
</g>
<g font-size="25" fill="#222">
<text x="1309" y="196" textLength="271" lengthAdjust="spacingAndGlyphs">On-treatment Features</text>
<text x="1786" y="204" textLength="279" lengthAdjust="spacingAndGlyphs">On-treatment Features</text>
</g>
<g fill="#222">
<text x="171" y="194" font-size="20" textLength="101" lengthAdjust="spacingAndGlyphs">Wang et al.</text>
<text x="379" y="194" font-size="20" textLength="56" lengthAdjust="spacingAndGlyphs">TONIC</text>
<text x="735" y="216" font-size="20" textLength="99" lengthAdjust="spacingAndGlyphs">Wang et al.</text>
<text x="936" y="216" font-size="20" textLength="55" lengthAdjust="spacingAndGlyphs">TONIC</text>
<text x="1346" y="238" font-size="18" textLength="86" lengthAdjust="spacingAndGlyphs">Wang et al.</text>
<text x="1525" y="238" font-size="18" textLength="49" lengthAdjust="spacingAndGlyphs">TONIC</text>
<text x="1824" y="248" font-size="18" textLength="90" lengthAdjust="spacingAndGlyphs">Wang et al.</text>
<text x="2008" y="248" font-size="18" textLength="49" lengthAdjust="spacingAndGlyphs">TONIC</text>
</g>
<g class="dv" font-size="16" fill="#222" text-anchor="middle">
<text x="148" y="254">41</text><text x="421" y="254">20</text>
<text x="140" y="411">41</text><text x="285" y="411">0</text><text x="429" y="411">20</text>
<text x="716" y="274">12</text><text x="977" y="274">20</text>
<text x="707" y="426">12</text><text x="846" y="426">0</text><text x="986" y="426">20</text>
<text x="1327" y="291">37</text><text x="1561" y="291">47</text>
<text x="1320" y="425">34</text><text x="1444" y="425">3</text><text x="1568" y="425">44</text>
<text x="1805" y="301">20</text><text x="2045" y="301">47</text>
<text x="1797" y="441">16</text><text x="1925" y="441">4</text><text x="2053" y="441">43</text>
</g>

<!-- c d e text -->
<g font-size="28" fill="#222">
<text x="173" y="665" textLength="336" lengthAdjust="spacingAndGlyphs">Ki67+ Cancer_1 proportion</text>
<text x="897" y="665" textLength="345" lengthAdjust="spacingAndGlyphs">Ki67+ CD8 T cell proportion</text>
<text x="1661" y="665" textLength="218" lengthAdjust="spacingAndGlyphs">Cancer_1 density</text>
</g>
<g font-size="26" fill="#444" text-anchor="middle">
<text x="215" y="733">Baseline</text><text x="532" y="733">On-treatment</text>
<text x="958" y="733">Baseline</text><text x="1283" y="733">On-treatment</text>
<text x="1667" y="733">Baseline</text><text x="1989" y="733">On-treatment</text>
</g>
<g font-size="24" fill="#444" text-anchor="end">
<text x="108" y="753.5">1.0</text><text x="108" y="844.3">0.8</text><text x="108" y="935.1">0.6</text><text x="108" y="1025.9">0.4</text><text x="108" y="1116.7">0.2</text><text x="108" y="1207.5">0.0</text>
<text x="424" y="753.5">1.0</text><text x="424" y="844.3">0.8</text><text x="424" y="935.1">0.6</text><text x="424" y="1025.9">0.4</text><text x="424" y="1116.7">0.2</text><text x="424" y="1207.5">0.0</text>
<text x="851" y="753.5">0.6</text><text x="851" y="829.2">0.5</text><text x="851" y="904.8">0.4</text><text x="851" y="980.5">0.3</text><text x="851" y="1056.2">0.2</text><text x="851" y="1131.8">0.1</text><text x="851" y="1207.5">0.0</text>
<text x="1175" y="753.5">0.6</text><text x="1175" y="829.2">0.5</text><text x="1175" y="904.8">0.4</text><text x="1175" y="980.5">0.3</text><text x="1175" y="1056.2">0.2</text><text x="1175" y="1131.8">0.1</text><text x="1175" y="1207.5">0.0</text>
<text x="1560" y="753.5">1.0</text><text x="1560" y="844.3">0.8</text><text x="1560" y="935.1">0.6</text><text x="1560" y="1025.9">0.4</text><text x="1560" y="1116.7">0.2</text><text x="1560" y="1207.5">0.0</text>
<text x="1881" y="753.5">1.0</text><text x="1881" y="844.3">0.8</text><text x="1881" y="935.1">0.6</text><text x="1881" y="1025.9">0.4</text><text x="1881" y="1116.7">0.2</text><text x="1881" y="1207.5">0.0</text>
</g>
<g font-size="24" fill="#444" text-anchor="middle">
<text x="174" y="1241">pCR</text><text x="256" y="1241">RD</text><text x="215" y="1273">pCR</text>
<text x="491" y="1241">pCR</text><text x="573" y="1241">RD</text><text x="532" y="1273">pCR</text>
<text x="917" y="1241">pCR</text><text x="999" y="1241">RD</text><text x="958" y="1273">pCR</text>
<text x="1241" y="1241">pCR</text><text x="1373" y="1230">RD</text><text x="1282" y="1273">pCR</text>
<text x="1626" y="1241">pCR</text><text x="1707" y="1241">RD</text><text x="1667" y="1273">pCR</text>
<text x="1947" y="1241">pCR</text><text x="2030" y="1241">RD</text><text x="1989" y="1273">pCR</text>
</g>
<g font-size="25" fill="#444" text-anchor="middle">
<text transform="translate(57,973) rotate(-90)">raw_mean</text>
<text transform="translate(374,973) rotate(-90)">raw_mean</text>
<text transform="translate(801,973) rotate(-90)">raw_mean</text>
<text transform="translate(1125,973) rotate(-90)">raw_mean</text>
<text transform="translate(1509,973) rotate(-90)">raw_mean</text>
<text transform="translate(1831,973) rotate(-90)">raw_mean</text>
</g>

<!-- f / g text -->
<g font-size="28" fill="#111">
<text x="384" y="1368" textLength="384" lengthAdjust="spacingAndGlyphs">Wang et al. dataset predictions</text>
<text x="1504" y="1368" textLength="316" lengthAdjust="spacingAndGlyphs">TONIC dataset prediction</text>
</g>
<g font-size="23" fill="#333" text-anchor="end">
<text x="102" y="1389">1.0</text><text x="102" y="1480.4">0.8</text><text x="102" y="1571.8">0.6</text><text x="102" y="1663.2">0.4</text><text x="102" y="1754.6">0.2</text><text x="102" y="1846">0.0</text>
<text x="1182" y="1389">1.0</text><text x="1182" y="1480.4">0.8</text><text x="1182" y="1571.8">0.6</text><text x="1182" y="1663.2">0.4</text><text x="1182" y="1754.6">0.2</text><text x="1182" y="1846">0.0</text>
</g>
<g font-size="22" fill="#333" text-anchor="middle">
<text transform="translate(58,1610) rotate(-90)">AUC</text>
<text transform="translate(1138,1610) rotate(-90)">AUC</text>
</g>
<g font-size="27" fill="#333" text-anchor="end">
<text transform="translate(200,1862) rotate(-45)">Baseline (C)</text>
<text transform="translate(353,1862) rotate(-45)">Baseline (C&amp;I)</text>
<text transform="translate(507,1862) rotate(-45)">On-treatment (C)</text>
<text transform="translate(660,1862) rotate(-45)">On-treatment (C&amp;I)</text>
<text transform="translate(814,1862) rotate(-45)">Both (C)</text>
<text transform="translate(967,1862) rotate(-45)">Both (C&amp;I)</text>
<text transform="translate(1320,1862) rotate(-45)">Primary</text>
<text transform="translate(1551,1862) rotate(-45)">Baseline</text>
<text transform="translate(1781,1862) rotate(-45)">Pre nivo</text>
<text transform="translate(2012,1862) rotate(-45)">On nivo</text>
</g>

<!-- j text -->
<g font-size="25" fill="#444" text-anchor="end">
<text x="134" y="2562">0</text><text x="134" y="2482.4">10</text><text x="134" y="2402.8">20</text><text x="134" y="2323.2">30</text><text x="134" y="2243.6">40</text><text x="134" y="2164">50</text>
</g>
<g font-size="22" fill="#444" text-anchor="end">
<text transform="translate(226,2585) rotate(-90)">on_nivo</text>
<text transform="translate(358,2585) rotate(-90)">baseline</text>
<text transform="translate(490,2585) rotate(-90)">pre_nivo</text>
<text transform="translate(622,2585) rotate(-90)">primary</text>
</g>
<text x="381" y="2714" font-size="25" fill="#444" text-anchor="middle">comparison</text>
<text transform="translate(95,2325) rotate(-90)" font-size="24" fill="#444" text-anchor="middle">Feature count</text>

<!-- k text -->
<g font-size="28" fill="#444" text-anchor="middle">
<text x="889" y="2318">21</text><text x="1064" y="2318">79</text><text x="1235" y="2318">21</text>
</g>
<text x="928" y="2523" font-size="33" fill="#444">original</text>
<text x="1094" y="2523" font-size="33" fill="#444">updated</text>

<!-- l text -->
<g font-size="24" fill="#444" text-anchor="end">
<text x="1449" y="2610.5">0.4</text><text x="1449" y="2520.7">0.5</text><text x="1449" y="2430.8">0.6</text><text x="1449" y="2341">0.7</text><text x="1449" y="2251.2">0.8</text><text x="1449" y="2161.3">0.9</text><text x="1449" y="2071.5">1.0</text>
</g>
<g font-size="22" fill="#444" text-anchor="middle">
<text x="1537" y="2634">primary</text><text x="1680" y="2634">baseline</text><text x="1822" y="2634">pre nivo</text><text x="1965" y="2634">on nivo</text>
<text x="1752" y="2663">Timepoint</text>
<text transform="translate(1405,2333) rotate(-90)">AUC</text>
</g>

<!-- legends -->
<rect x="615" y="1730" width="411" height="100" rx="5" fill="#fff" fill-opacity="0.85" stroke="#d2d2d2" stroke-width="2"/>
<circle cx="644" cy="1749" r="8" fill="#ffd500"/>
<circle cx="644" cy="1779" r="8" fill="#1f76b8"/>
<circle cx="644" cy="1809" r="8" fill="#8ec196"/>
<g font-size="23" fill="#333">
<text x="673" y="1757" textLength="239" lengthAdjust="spacingAndGlyphs">Wang et al. predictions</text>
<text x="673" y="1787" textLength="224" lengthAdjust="spacingAndGlyphs">SpaceCat predictions</text>
<text x="673" y="1817" textLength="344" lengthAdjust="spacingAndGlyphs">SpaceCat &amp; Wang et al. features</text>
</g>
<rect x="1699" y="1730" width="416" height="99" rx="5" fill="#fff" fill-opacity="0.85" stroke="#d2d2d2" stroke-width="2"/>
<circle cx="1729" cy="1747" r="8" fill="#1f76b8"/>
<circle cx="1729" cy="1778" r="8" fill="#ffd500"/>
<circle cx="1729" cy="1808" r="8" fill="#8ec196"/>
<g font-size="23" fill="#333">
<text x="1758" y="1755" textLength="193" lengthAdjust="spacingAndGlyphs">SpaceCat pipeline</text>
<text x="1758" y="1786" textLength="208" lengthAdjust="spacingAndGlyphs">Wang et al. pipeline</text>
<text x="1758" y="1816" textLength="354" lengthAdjust="spacingAndGlyphs">SpaceCat &amp; Wang et al. pipelines</text>
</g>
<rect x="1477" y="2076" width="163" height="103" rx="5" fill="#fff" fill-opacity="0.85" stroke="#d2d2d2" stroke-width="2"/>
<rect x="1485" y="2117" width="47" height="16" fill="#d1d2d4" stroke="#777" stroke-width="2"/>
<rect x="1485" y="2150" width="47" height="16" fill="#7fca99" stroke="#777" stroke-width="2"/>
<g font-size="22" fill="#444">
<text x="1558" y="2102" text-anchor="middle">annotation</text>
<text x="1550" y="2132">original</text>
<text x="1550" y="2164">updated</text>
</g>
</svg>
</body></html>
